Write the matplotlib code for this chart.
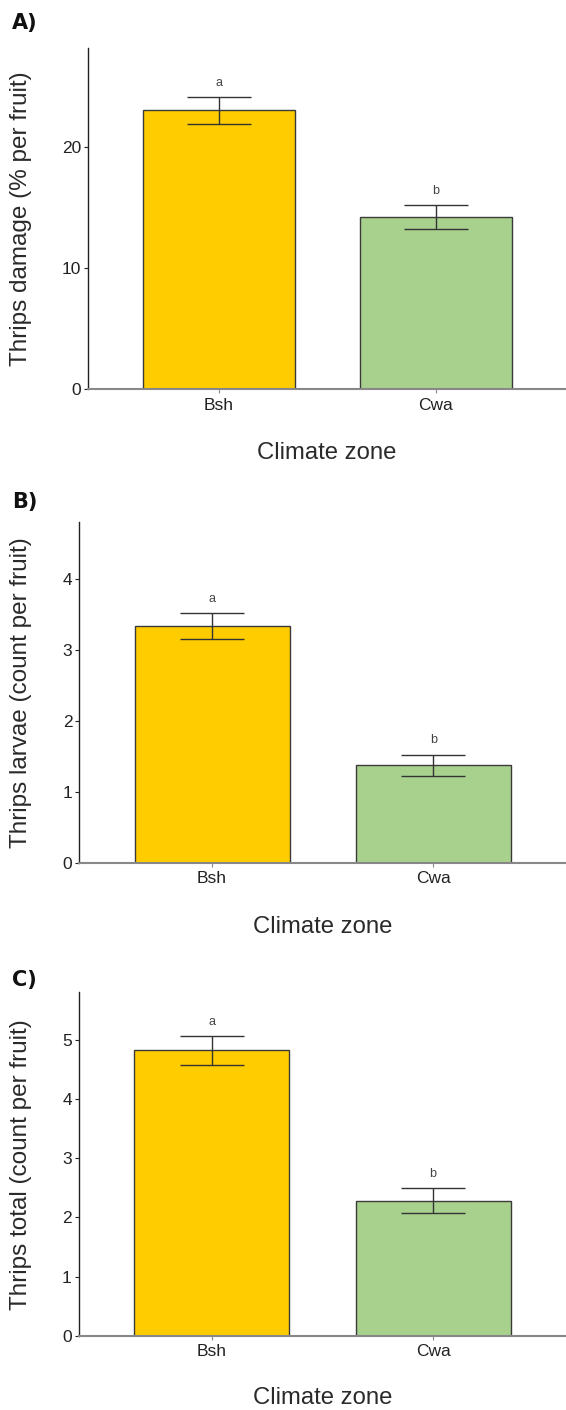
import matplotlib
matplotlib.use("Agg")
import matplotlib.pyplot as plt

plt.rcParams['font.family'] = ['Liberation Sans', 'DejaVu Sans']

zones = ["Bsh", "Cwa"]
colors = ["#FFCC00", "#A9D18E"]

damage_mean = [23.0, 14.2]
damage_se = [1.1, 0.95]
larvae_mean = [3.33, 1.37]
larvae_se = [0.18, 0.15]
total_mean = [4.82, 2.28]
total_se = [0.24, 0.21]
letters = ["a", "b"]

panel_titles = ["A)", "B)", "C)"]
ylabels = ["Thrips damage (% per fruit)",
           "Thrips larvae (count per fruit)",
           "Thrips total (count per fruit)"]
yticks = [[0, 10, 20], [0, 1, 2, 3, 4], [0, 1, 2, 3, 4, 5]]
ylims = [28.1, 4.8, 5.8]
xlabel = "Climate zone"

W, H = 566, 1410
fig = plt.figure(figsize=(W / 100, H / 100), dpi=100)

# (left, top, bottom) in pixels
boxes = [(88.3, 48.3, 389.3), (79.4, 521.7, 862.7), (78.7, 992.3, 1336.0)]
title_y = [23, 502, 980]
xlabel_y = [453, 927, 1398]

data = [(damage_mean, damage_se), (larvae_mean, larvae_se), (total_mean, total_se)]

for i, ((left, top, bottom), (means, ses)) in enumerate(zip(boxes, data)):
    ax = fig.add_axes([left / W, 1 - bottom / H, (W - left) / W, (bottom - top) / H])
    x = list(range(1, len(zones) + 1))
    ax.bar(x, means, width=0.7, color=colors, edgecolor="#3a3a3a", linewidth=1.0, zorder=2)
    ax.errorbar(x, means, yerr=ses, fmt="none", ecolor="#333333", elinewidth=1.0,
                capsize=23, capthick=1.0, zorder=3)
    for xi, m, s, lt in zip(x, means, ses, letters):
        ax.annotate(lt, (xi, m + s), xytext=(0, 6), textcoords="offset points",
                    ha="center", va="bottom", fontsize=9, color="#444444")
    ax.set_xlim(0.4, 2.6)
    ax.set_ylim(0, ylims[i])
    ax.set_xticks(x)
    ax.set_xticklabels(zones)
    ax.set_yticks(yticks[i])
    for s in ["top", "right"]:
        ax.spines[s].set_visible(False)
    ax.spines["left"].set_color("#222222")
    ax.spines["left"].set_linewidth(1.0)
    ax.spines["bottom"].set_color("#888888")
    ax.spines["bottom"].set_linewidth(1.5)
    ax.tick_params(axis="y", colors="#222222", labelsize=12.5, length=3, width=0.8, pad=2)
    ax.tick_params(axis="x", colors="#888888", labelcolor="#222222", labelsize=12.5,
                   length=3, width=0.8, pad=3)
    fig.text(21 / W, 1 - (top + bottom) / 2 / H, ylabels[i], rotation=90,
             ha="center", va="center", fontsize=17.5, color="#2a2a2a")
    fig.text((left + W) / 2 / W, 1 - xlabel_y[i] / H, xlabel, ha="center", va="center",
             fontsize=17.2, color="#2a2a2a")
    fig.text(12 / W, 1 - title_y[i] / H, panel_titles[i], ha="left", va="center",
             fontsize=15, fontweight="bold", family="DejaVu Sans", color="#111111")

fig.savefig("out.png", dpi=100)
